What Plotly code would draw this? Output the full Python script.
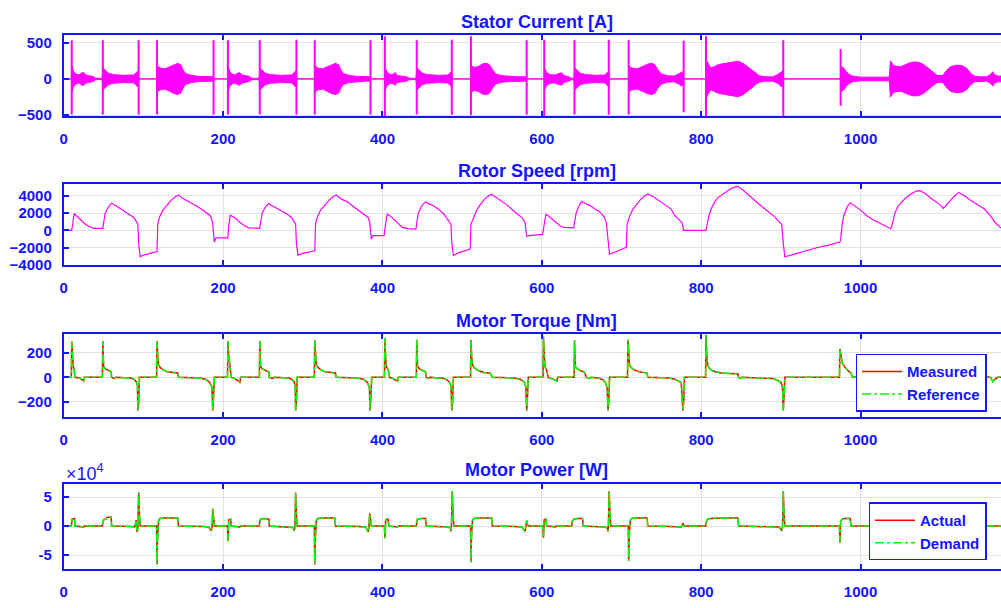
import plotly.graph_objects as go

# ---------------- data ----------------
# Stator current envelope (time [s], amplitude [A])
current_envelope = [
    (0, 0), (10, 0), (10.5, 180), (12, 110), (15, 70), (19, 55), (22, 80), (25, 90), (27, 60), (31, 45),
    (37, 35), (40, 10), (48, 8), (49.5, 150), (52, 120), (56, 80), (62, 60), (75, 50), (88, 55), (91, 90),
    (93, 110), (94.5, 0), (117, 0), (117.5, 180), (121, 150), (127, 140), (133, 170), (138, 200), (143, 215),
    (147, 195), (150, 120), (153, 75), (160, 50), (170, 35), (180, 30), (187, 30), (188, 0),
    (206, 0), (206.5, 170), (208, 110), (211, 70), (215, 55), (218, 80), (221, 85), (224, 55), (228, 45),
    (233, 35), (236, 10), (245, 8), (246.5, 150), (249, 120), (253, 80), (259, 60), (272, 50), (286, 55),
    (289, 90), (291, 110), (292.5, 0), (315, 0), (315.5, 180), (319, 150), (325, 140), (331, 170), (336, 200),
    (341, 215), (345, 195), (348, 120), (351, 75), (358, 50), (368, 35), (378, 30), (384, 30), (385, 0),
    (403, 0), (403.5, 150), (406, 90), (410, 60), (414, 70), (416, 90), (418, 50), (423, 40), (430, 30),
    (434, 10), (442, 8), (443.5, 150), (446, 120), (450, 80), (456, 60), (470, 50), (482, 55), (485, 90),
    (487, 110), (488, 0), (511, 0), (511.5, 180), (515, 160), (520, 170), (526, 210), (530, 215), (534, 200),
    (538, 130), (542, 70), (550, 45), (560, 35), (570, 30), (580, 30), (581, 0),
    (603, 0), (603.5, 150), (606, 90), (610, 60), (616, 55), (622, 80), (625, 85), (628, 45), (633, 35),
    (637, 10), (640, 8), (641.5, 150), (644, 120), (648, 80), (655, 60), (668, 50), (679, 55), (682, 90),
    (684, 110), (685, 0), (709, 0), (709.5, 180), (713, 150), (720, 140), (727, 170), (733, 205), (738, 215),
    (742, 195), (746, 120), (750, 70), (758, 45), (766, 40), (772, 70), (776, 100), (778, 0),
    (806, 0), (806.5, 260), (809, 200), (812, 150), (816, 170), (822, 200), (830, 215), (838, 235), (846, 245),
    (852, 220), (858, 170), (864, 120), (869, 70), (873, 45), (880, 30), (890, 30), (896, 60), (900, 100),
    (902, 110), (903, 0), (975, 0), (975.5, 170), (979, 150), (982, 100), (986, 60), (990, 40), (1000, 25),
    (1020, 25), (1036, 25), (1037.5, 250), (1041, 190), (1046, 170), (1052, 175), (1060, 215), (1067, 235),
    (1073, 230), (1079, 200), (1085, 150), (1090, 100), (1096, 50), (1103, 45), (1108, 120), (1113, 170),
    (1120, 190), (1127, 185), (1133, 150), (1138, 80), (1143, 40), (1150, 30), (1158, 30), (1163, 60),
    (1166, 100), (1168, 60), (1172, 40), (1180, 40),
]
# Stator current switching spikes (time [s], max [A], min [A])
current_spikes = [
    (10, 535, -490), (49, 535, -490), (94, 535, -495), (117, 535, -490), (188, 535, -495),
    (206, 535, -490), (246, 535, -490), (292, 540, -495), (315, 535, -490), (385, 535, -495),
    (403, 590, -510), (443, 535, -490), (487, 540, -495), (511, 590, -500), (581, 535, -495),
    (603, 540, -510), (641, 535, -490), (684, 540, -495), (709, 535, -490), (778, 527, -460),
    (806, 590, -510), (903, 535, -510), (975, 415, -370),
]
# Rotor speed (time [s], rpm)
rotor_speed = [
    (0, 0), (10, 0), (11, 600), (13, 1950), (16, 1700), (19, 1450), (22, 1100), (26, 800), (30, 550), (37, 250),
    (49, 250), (50, 800), (52, 2000), (56, 2700), (60, 3150), (63, 3000), (68, 2700), (75, 2300), (82, 1900),
    (88, 1500), (92, 900), (93, 700), (94, -1500), (96, -3050), (100, -2850), (110, -2600), (117, -2450),
    (118, 700), (120, 1500), (124, 2300), (129, 2900), (135, 3500), (140, 3900), (144, 4100), (150, 3650),
    (158, 3300), (165, 2900), (172, 2500), (178, 2100), (184, 1700), (186, 1200), (187, 700), (189, -1350),
    (191, -850), (206, -850),
    (207, 500), (209, 1750), (212, 1600), (216, 1400), (220, 1000), (225, 650), (232, 300), (246, 250),
    (247, 900), (249, 2000), (253, 2700), (257, 3100), (260, 2950), (265, 2700), (272, 2300), (280, 1900),
    (286, 1500), (290, 900), (291, 700), (292, -1500), (294, -2850), (300, -2650), (310, -2450), (315, -2350),
    (316, 700), (318, 1500), (322, 2300), (327, 2900), (333, 3500), (338, 3900), (342, 4100), (348, 3650),
    (356, 3300), (363, 2800), (370, 2300), (376, 1900), (382, 1500), (384, 900), (385, -600), (386, -1000),
    (388, -600), (402, -600),
    (404, 800), (406, 1900), (410, 1650), (416, 1100), (420, 700), (425, 350), (432, 200), (442, 150),
    (443, 900), (445, 2000), (449, 2800), (454, 3300), (458, 3100), (465, 2800), (471, 2400), (477, 1900),
    (483, 1100), (486, 700), (487, -1500), (489, -2900), (495, -2600), (503, -2400), (510, -2150),
    (511, 700), (514, 1500), (518, 2300), (522, 2900), (528, 3600), (533, 4000), (537, 4150), (543, 3800),
    (550, 3400), (557, 2900), (563, 2400), (570, 1900), (576, 1400), (579, 900), (581, -700), (584, -600),
    (601, -450),
    (603, 700), (605, 1850), (608, 1700), (612, 1400), (618, 1000), (622, 600), (627, 350), (640, 300),
    (641, 900), (643, 2000), (646, 2700), (650, 3350), (654, 3150), (660, 2900), (666, 2500), (672, 2200),
    (678, 1600), (681, 900), (683, -1000), (685, -2750), (692, -2500), (700, -2200), (706, -1950),
    (707, 700), (710, 1600), (714, 2400), (718, 2900), (724, 3600), (729, 4000), (733, 4200), (740, 3900),
    (748, 3400), (755, 3000), (762, 2500), (767, 1700), (773, 1200), (776, 900), (778, 0), (806, 0),
    (808, 900), (810, 1800), (813, 2600), (817, 3300), (821, 3800), (828, 4300), (835, 4700), (840, 4950),
    (846, 5100), (852, 4700), (860, 4000), (868, 3400), (875, 2850), (884, 2200), (892, 1600), (898, 1000),
    (901, 700), (903, -1500), (905, -3050), (915, -2800), (930, -2400), (945, -2000), (960, -1700),
    (974, -1350), (975, -1100), (977, 800), (979, 1700), (983, 2700), (987, 3200), (992, 2900), (1000, 2350),
    (1008, 1700), (1016, 1200), (1025, 800), (1032, 450), (1038, 200), (1040, 800), (1043, 2000),
    (1047, 2800), (1055, 3600), (1063, 4200), (1070, 4550), (1075, 4600), (1082, 4200), (1090, 3600),
    (1098, 3100), (1104, 2550), (1110, 3200), (1117, 3900), (1123, 4400), (1130, 4050), (1138, 3500),
    (1146, 3000), (1155, 2500), (1162, 1800), (1170, 800), (1176, 300), (1180, 0),
]
# Motor torque, measured (time [s], Nm)
torque_measured = [
    (0, 0), (9.5, 0), (10, 295), (11, 180), (12, 85), (13, 70), (14, 0), (20, -5), (23, -25), (25, -30), (26, 0),
    (48.5, 0), (49, 295), (50, 90), (52, 70), (55, 58), (58, 50), (59.5, 45), (60, 0), (63, -8), (65, 0),
    (84, -5), (88, -15), (91, -35), (92.5, -65), (93, -270), (94, -200), (95, 0), (116.5, 0), (117, 295),
    (118, 160), (119, 100), (121, 80), (125, 60), (130, 45), (138, 38), (143, 35), (144, 0), (170, -5),
    (178, -15), (183, -40), (186, -80), (187, -270), (188, -150), (189, 0),
    (205.5, 0), (206, 295), (207, 180), (208, 85), (209, 70), (210, 0), (215, -10), (219, -30), (221, -40),
    (222, 0), (245.5, 0), (246, 295), (247, 90), (249, 70), (252, 58), (255, 50), (257.5, 45), (258, 0),
    (262, -8), (264, 0), (282, -5), (286, -15), (289, -35), (290.5, -65), (291, -270), (292, -200), (293, 0),
    (314.5, 0), (315, 300), (316, 160), (317, 100), (319, 80), (323, 60), (328, 45), (335, 38), (341, 35),
    (342, 0), (368, -5), (376, -15), (381, -40), (383.5, -80), (384.5, -270), (385.5, -150), (386.5, 0),
    (402.5, 0), (403, 320), (404, 160), (405, 80), (407, 65), (409, 0), (413, -10), (417, -25), (419, -30),
    (420, 0), (442.5, 0), (443, 305), (444, 90), (446, 70), (450, 55), (454, 45), (455, 0), (458, -8),
    (460, 0), (476, -8), (481, -20), (484, -40), (486, -70), (487, -270), (488, -200), (489, 0), (510.5, 0),
    (511, 305), (512, 160), (513, 100), (515, 80), (520, 55), (527, 40), (535, 35), (538, 0), (565, -5),
    (573, -15), (578, -40), (580, -80), (581, -270), (582, -150), (583, 0),
    (601.5, 0), (602, 330), (603, 180), (604, 85), (606, 60), (608, 0), (612, -10), (616, -25), (619, -30),
    (620, 0), (640.5, 0), (641, 300), (642, 90), (644, 70), (648, 55), (653, 45), (656, 0), (660, -8),
    (662, 0), (672, -8), (677, -20), (680, -45), (682, -90), (683, -270), (684, -200), (685, 0), (707.5, 0),
    (708, 305), (709, 160), (710, 100), (712, 80), (716, 60), (722, 45), (728, 40), (732, 35), (733, 0),
    (760, -5), (767, -16), (772, -30), (775, -45), (777, -270), (778, -200), (779, 0),
    (805.5, 0), (806, 345), (807, 180), (808, 100), (810, 75), (813, 56), (818, 45), (825, 36), (835, 32),
    (846, 29), (847, 0), (849, -8), (851, 0), (880, -3), (890, -10), (896, -25), (900, -40), (902, -80),
    (903, -270), (904, -150), (905, 0), (973.5, 0), (974, 230), (975, 200), (977, 115), (980, 85), (984, 55),
    (988, 35), (990, 0), (1000, 10), (1040, 60), (1075, 40), (1105, 20), (1125, 40), (1150, 10), (1163, 0),
    (1166, -35), (1168, -20), (1172, 0), (1180, 0),
]
# Motor torque, reference (overlaps the measured trace in the picture)
torque_reference = list(torque_measured)
# Motor power, actual (time [s], W)
power_actual = [
    (0, 0), (9.5, 0), (10, 5000), (10.5, 12000), (13.5, 13000), (14, 0), (22, -1000), (25, -1500), (26, 0),
    (48.5, 0), (49, 6000), (50, 11000), (53, 12000), (54, 15000), (59.5, 15500), (60, 0), (85, -500),
    (89, -1500), (91, 10000), (92, -10000), (93, -4000), (93.5, 25000), (94, 58000), (95, 20000), (96, 0),
    (116.5, 0), (117, -66000), (117.5, -30000), (118, -15000), (119, 10000), (121, 13000), (125, 14000),
    (143, 14000), (144, 0), (175, -500), (182, -1500), (185, -8000), (186, -3000), (187, 30000), (188, 5000),
    (189, 0),
    (205.5, 0), (206, -26000), (206.5, -10000), (207, 11000), (209.5, 12000), (210, 0), (218, -1000),
    (221, -1500), (222, 0), (245.5, 0), (246, 8000), (247, 12000), (251, 13000), (255, 13000), (257.5, 12000),
    (258, 0), (270, -500), (284, -1500), (288, -2500), (289, -8000), (290, -3000), (290.5, 25000),
    (291, 58000), (292, 20000), (293, 0), (314.5, 0), (315, -66000), (315.5, -30000), (316, -15000),
    (317, 10000), (319, 13000), (323, 14000), (340, 14000), (341, 0), (370, -500), (379, -1500),
    (382, -10000), (383, -2000), (384, 22000), (385, 5000), (386, 0),
    (402.5, 0), (403, -21000), (403.5, -8000), (404, 11000), (407, 12000), (408, 0), (415, -800),
    (419, -1500), (420, 0), (442.5, 0), (443, 8000), (444, 12000), (449, 13000), (454, 13000), (455, 0),
    (470, -500), (482, -1500), (485, -3000), (486, -9000), (486.5, -2000), (487, 25000), (487.5, 60000),
    (488.5, 20000), (489.5, 0), (510.5, 0), (511, -62000), (511.5, -30000), (512, -10000), (513, 10000),
    (515, 13000), (519, 14000), (537, 14000), (538, 0), (565, -500), (575, -1500), (579, -9000), (580, -2000),
    (581, 10000), (582, 3000), (583, 0),
    (601, 0), (601.5, -12000), (602, -20000), (602.5, -5000), (603, 11000), (605, 12000), (606, 0),
    (613, -800), (617, -1500), (618, 0), (637.5, 0), (638, 8000), (640, 12000), (645, 13000), (651, 13000),
    (652, 0), (670, -500), (679, -1500), (682, -3000), (683, -9000), (683.5, -2000), (684, 25000),
    (684.5, 60000), (685.5, 20000), (686.5, 0), (708.5, 0), (709, -60000), (709.5, -30000), (710, -10000),
    (711, 10000), (713, 13000), (717, 14000), (732, 14000), (733, 0), (760, -500), (770, -1000),
    (775, -1500), (777, 5000), (778, 1500), (779, 0),
    (805.5, 0), (806, 6000), (808, 12000), (812, 13000), (825, 14000), (846, 14000), (847, 0), (860, -300),
    (890, -500), (898, -1500), (901, -8000), (902, -2000), (902.5, 25000), (903, 60000), (904, 20000),
    (905, 0), (973.5, 0), (974, -29000), (974.5, -15000), (975, 8000), (977, 12000), (980, 13000),
    (987, 13000), (988, 0), (1010, 0), (1040, 8000), (1060, 12000), (1075, 9000), (1100, 0), (1115, 9000),
    (1125, 11000), (1140, 3000), (1160, 0), (1180, 0),
]
# Motor power, demand (overlaps the actual trace in the picture)
power_demand = list(power_actual)

x_ticks = [0, 200, 400, 600, 800, 1000]
current_ticks = [-500, 0, 500]
speed_ticks = [-4000, -2000, 0, 2000, 4000]
torque_ticks = [-200, 0, 200]
power_ticks = [-50000, 0, 50000]
power_tick_text = ['-5', '0', '5']

# ---------------- styling ----------------
W, H = 1001, 608
BLUE = '#1414ff'
MAGENTA = '#ff00ff'
RED = '#ff0000'
GREEN = '#00ff00'
GRID = '#e2e2e2'
FONT = 'Liberation Sans, Arial, sans-serif'

def col(pairs, i):
    return [p[i] for p in pairs]

fig = go.Figure()

# Stator current: envelope polygon + spikes
et, ea = col(current_envelope, 0), col(current_envelope, 1)
fig.add_trace(go.Scatter(
    x=et + et[::-1], y=ea + [-a for a in ea[::-1]], mode='lines', fill='toself',
    fillcolor=MAGENTA, line=dict(color=MAGENTA, width=1), showlegend=False,
    xaxis='x', yaxis='y', hoverinfo='skip'))
sx, sy = [], []
for t, hi, lo in current_spikes:
    sx += [t, t, None]
    sy += [lo, hi, None]
fig.add_trace(go.Scatter(x=sx, y=sy, mode='lines', line=dict(color=MAGENTA, width=2),
                         showlegend=False, xaxis='x', yaxis='y'))

# Rotor speed
fig.add_trace(go.Scatter(x=col(rotor_speed, 0), y=col(rotor_speed, 1), mode='lines',
                         line=dict(color=MAGENTA, width=1.2), showlegend=False,
                         xaxis='x2', yaxis='y2'))

# Torque
fig.add_trace(go.Scatter(x=col(torque_measured, 0), y=col(torque_measured, 1), mode='lines',
                         name='Measured', line=dict(color=RED, width=1.5),
                         xaxis='x3', yaxis='y3', legend='legend'))
fig.add_trace(go.Scatter(x=col(torque_reference, 0), y=col(torque_reference, 1), mode='lines',
                         name='Reference', line=dict(color=GREEN, width=1.5, dash='dashdot'),
                         xaxis='x3', yaxis='y3', legend='legend'))

# Power
fig.add_trace(go.Scatter(x=col(power_actual, 0), y=col(power_actual, 1), mode='lines',
                         name='Actual', line=dict(color=RED, width=1.5),
                         xaxis='x4', yaxis='y4', legend='legend2'))
fig.add_trace(go.Scatter(x=col(power_demand, 0), y=col(power_demand, 1), mode='lines',
                         name='Demand', line=dict(color=GREEN, width=1.5, dash='dashdot'),
                         xaxis='x4', yaxis='y4', legend='legend2'))

# panel pixel boxes (top, bottom)
panels = [(35, 117), (186, 268), (338, 422), (490, 577)]
yranges = [[-515, 600], [-4000, 5340], [-320, 352], [-74600, 72900]]
ytickvals = [current_ticks, speed_ticks, torque_ticks, power_ticks]
yticktext = [None, None, None, power_tick_text]
titles = ['Stator Current [A]', 'Rotor Speed [rpm]', 'Motor Torque [Nm]', 'Motor Power [W]']
title_y = [21, 173, 325, 476]

tickfont = dict(family=FONT, size=15, color=BLUE, weight='bold')
layout = dict(width=W, height=H, margin=dict(l=0, r=0, t=0, b=0),
              paper_bgcolor='white', plot_bgcolor='white', showlegend=True)
x_dom = [60 / W, 1.0]
annotations = []
for i, ((top, bot), yr) in enumerate(zip(panels, yranges)):
    s = '' if i == 0 else str(i + 1)
    layout['xaxis' + s] = dict(
        domain=x_dom, anchor='y' + s, range=[0, (W - 60) / 0.8], tickvals=x_ticks,
        ticks='inside', ticklen=5, tickwidth=1.5, tickcolor=BLUE, showline=True, linecolor=BLUE,
        linewidth=2, mirror='ticks', showgrid=True, gridcolor=GRID, gridwidth=1, zeroline=False,
        tickfont=tickfont, ticklabelstandoff=8)
    yax = dict(
        domain=[1 - bot / H, 1 - top / H], anchor='x' + s, range=yr, tickvals=ytickvals[i],
        ticks='inside', ticklen=5, tickwidth=1.5, tickcolor=BLUE, showline=True, linecolor=BLUE,
        linewidth=2, mirror=False, showgrid=True, gridcolor=GRID, gridwidth=1, zeroline=False,
        tickfont=tickfont, ticklabelstandoff=7)
    if yticktext[i] is not None:
        yax['ticktext'] = yticktext[i]
    layout['yaxis' + s] = yax
    annotations.append(dict(text='<b>' + titles[i] + '</b>', x=535 / W, y=1 - title_y[i] / H,
                            xref='paper', yref='paper', xanchor='center', yanchor='middle',
                            showarrow=False, font=dict(family=FONT, size=18, color=BLUE)))

annotations.append(dict(text='×10<sup>4</sup>', x=60 / W, y=1 - 479 / H, xref='paper', yref='paper',
                        xanchor='left', yanchor='middle', showarrow=False,
                        font=dict(family=FONT, size=18, color=BLUE)))
layout['annotations'] = annotations

legend_style = dict(xref='paper', yref='paper', xanchor='left', yanchor='top', bgcolor='white',
                    bordercolor=BLUE, borderwidth=1.5,
                    font=dict(family=FONT, size=15, color=BLUE, weight='bold'),
                    itemwidth=40, tracegroupgap=0)
layout['legend'] = dict(x=855 / W, y=1 - 358 / H, **legend_style)
layout['legend2'] = dict(x=868 / W, y=1 - 509 / H, **legend_style)

fig.update_layout(**layout)
fig.write_html('out.html')
